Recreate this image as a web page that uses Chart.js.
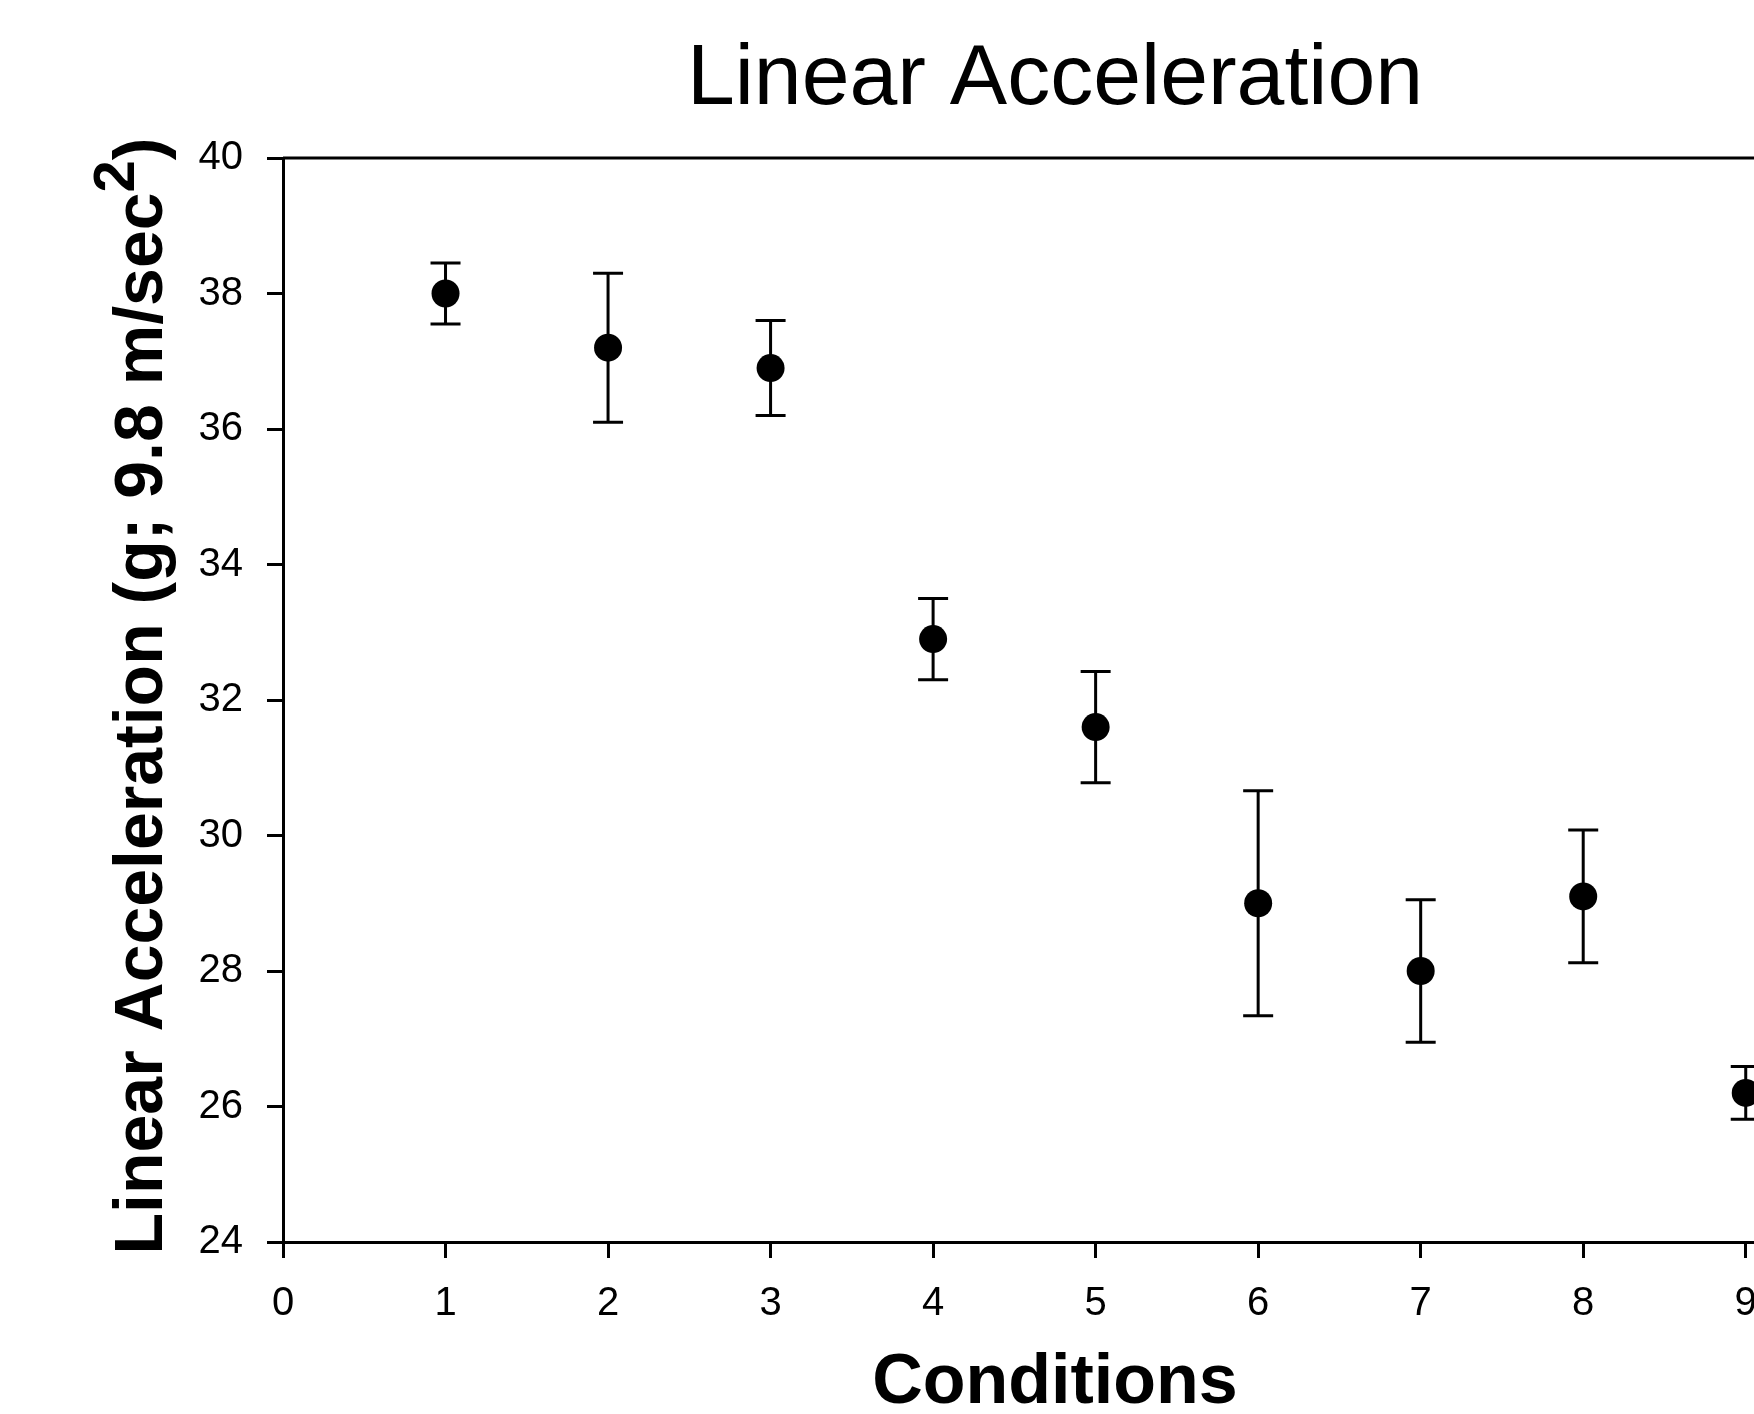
<!DOCTYPE html>
<html>
<head>
<meta charset="utf-8">
<script src="https://cdn.jsdelivr.net/npm/chart.js@4.4.0/dist/chart.umd.min.js"></script>
<style>
  html, body { margin: 0; padding: 0; background: #fff; overflow: hidden; }
  #wrap { width: 1754px; height: 1414px; overflow: hidden; position: relative; }
  canvas { position: absolute; left: 0; top: 0; }
</style>
</head>
<body>
<div id="wrap">
  <canvas id="accelChart" width="2110" height="1414" style="width:2110px;height:1414px"></canvas>
</div>
<script>
// data
const conditions = [1, 2, 3, 4, 5, 6, 7, 8, 9];
const meanAccel = [38.0, 37.2, 36.9, 32.9, 31.6, 29.0, 28.0, 29.1, 26.2];
const errAccel = [0.45, 1.1, 0.7, 0.6, 0.82, 1.66, 1.05, 0.98, 0.39];
const yTicks = [24, 26, 28, 30, 32, 34, 36, 38, 40];

const FONT = 'Liberation Sans, Arial, Helvetica, sans-serif';

// error bars, drawn from the data through the chart scales
const errorBars = {
    id: 'errorBars',
    beforeDatasetsDraw(chart) {
        const { ctx, scales: { x, y } } = chart;
        ctx.save();
        ctx.strokeStyle = '#000';
        ctx.lineWidth = 3;
        conditions.forEach((c, i) => {
            const px = x.getPixelForValue(c);
            const top = y.getPixelForValue(meanAccel[i] + errAccel[i]);
            const bot = y.getPixelForValue(meanAccel[i] - errAccel[i]);
            ctx.beginPath();
            ctx.moveTo(px, top);
            ctx.lineTo(px, bot);
            ctx.moveTo(px - 15, top);
            ctx.lineTo(px + 15, top);
            ctx.moveTo(px - 15, bot);
            ctx.lineTo(px + 15, bot);
            ctx.stroke();
        });
        ctx.restore();
    }
};

// top frame line, chart title over the plot area, y title with a superscript
const frameAndTitles = {
    id: 'frameAndTitles',
    afterDraw(chart) {
        const { ctx, chartArea } = chart;
        ctx.save();
        ctx.strokeStyle = '#000';
        ctx.lineWidth = 3;
        ctx.beginPath();
        ctx.moveTo(chartArea.left, chartArea.top);
        ctx.lineTo(chartArea.right, chartArea.top);
        ctx.stroke();

        // main title, centred over the plot area
        ctx.fillStyle = '#000';
        ctx.font = '86px ' + FONT;
        ctx.textAlign = 'center';
        ctx.textBaseline = 'alphabetic';
        ctx.fillText('Linear Acceleration', (chartArea.left + chartArea.right) / 2, 104);

        // y axis title
        const main = 'Linear Acceleration (g; 9.8 m/sec';
        const sup = '2';
        const tail = ')';
        const mainFont = 'bold 68px ' + FONT;
        const supFont = 'bold 58px ' + FONT;
        ctx.font = mainFont;
        const w1 = ctx.measureText(main).width;
        const w3 = ctx.measureText(tail).width;
        ctx.font = supFont;
        const w2 = ctx.measureText(sup).width;
        const total = w1 + w2 + w3;

        ctx.translate(162, (chartArea.top + chartArea.bottom) / 2 - 4);
        ctx.rotate(-Math.PI / 2);
        ctx.textAlign = 'left';
        let sx = -total / 2;
        ctx.font = mainFont;
        ctx.fillText(main, sx, 0);
        sx += w1;
        ctx.font = supFont;
        ctx.fillText(sup, sx, -28);
        sx += w2;
        ctx.font = mainFont;
        ctx.fillText(tail, sx, 0);
        ctx.restore();
    }
};

const ctx = document.getElementById('accelChart').getContext('2d');
const accelChart = new Chart(ctx, {
    type: 'scatter',
    data: {
        datasets: [{
            label: 'Linear Acceleration',
            data: conditions.map((c, i) => ({ x: c, y: meanAccel[i] })),
            backgroundColor: '#000',
            borderColor: '#000',
            borderWidth: 0,
            pointRadius: 14,
            pointHoverRadius: 14
        }]
    },
    options: {
        responsive: false,
        devicePixelRatio: 1,
        animation: false,
        events: [],
        layout: { padding: { left: 0, right: 283, top: 158, bottom: 0 } },
        plugins: {
            legend: { display: false },
            tooltip: { enabled: false },
            title: { display: false }
        },
        scales: {
            x: {
                type: 'linear',
                min: 0,
                max: 9.5,
                afterFit(scale) { scale.height = 172; },
                ticks: {
                    stepSize: 1,
                    includeBounds: false,
                    color: '#000',
                    padding: 22,
                    font: { family: FONT, size: 40 },
                    maxRotation: 0
                },
                grid: {
                    drawOnChartArea: false,
                    drawTicks: true,
                    tickLength: 16,
                    tickWidth: 3,
                    tickColor: '#000'
                },
                border: { display: true, color: '#000', width: 3 },
                title: {
                    display: true,
                    text: 'Conditions',
                    color: '#000',
                    font: { family: FONT, size: 70, weight: 'bold', lineHeight: 0.85 },
                    padding: { top: 0, bottom: 1 }
                }
            },
            y: {
                min: 24,
                max: 40,
                afterFit(scale) { scale.width = 283; },
                afterBuildTicks(scale) { scale.ticks = yTicks.map(v => ({ value: v })); },
                ticks: {
                    color: '#000',
                    padding: 24,
                    font: { family: FONT, size: 40 }
                },
                grid: {
                    drawOnChartArea: false,
                    drawTicks: true,
                    tickLength: 16,
                    tickWidth: 3,
                    tickColor: '#000'
                },
                border: { display: true, color: '#000', width: 3 },
                title: { display: false }
            }
        }
    },
    plugins: [errorBars, frameAndTitles]
});
</script>
</body>
</html>
